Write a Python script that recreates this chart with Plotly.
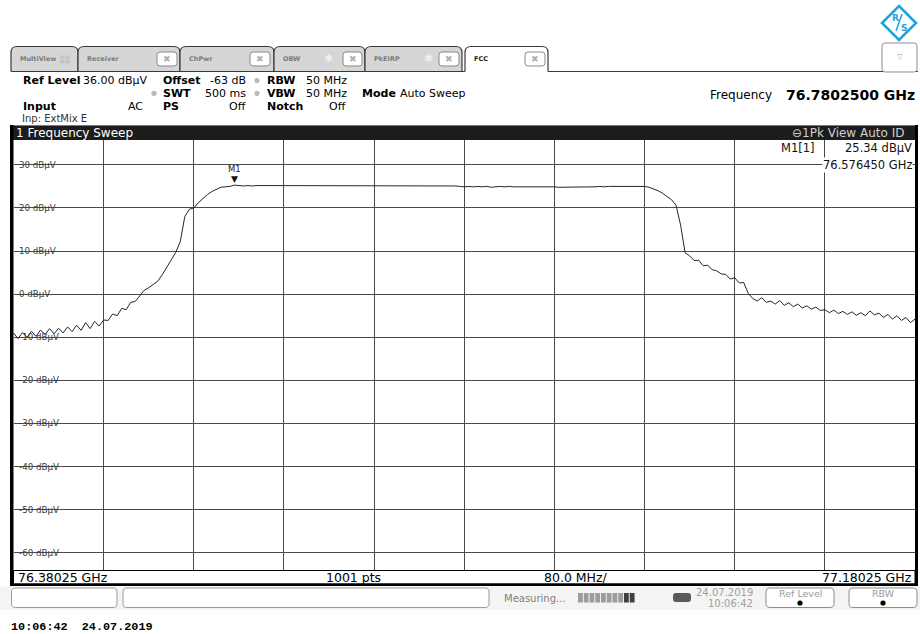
import numpy as np
import plotly.graph_objects as go

# ---------------- data ----------------
START_GHZ = 76.38025
STOP_GHZ = 77.18025
REF_LEVEL = 36.0
BOTTOM_LEVEL = -64.0
LEVEL_TICKS = [30, 20, 10, 0, -10, -20, -30, -40, -50, -60]
LEVEL_LABELS = [f"{v} dBµV" for v in LEVEL_TICKS]

levels_dbuv = [
    # rising noise floor / lower skirt
    -9.0, -10.3, -8.9, -10.0, -8.6, -9.8, -8.3, -9.4, -8.0, -9.2,
    -7.9, -9.0, -7.6, -8.7, -7.2, -8.4, -6.6, -8.0, -6.3, -7.4,
    -6.0, -6.1, -4.6, -5.0, -3.3, -3.6, -1.9, -1.7, -0.4, 0.9,
    1.5, 2.2, 3.0, 4.5, 6.2, 7.9, 9.7, 12.2, 18.0, 19.7,
    20.0, 21.2, 22.2, 23.1, 23.8, 24.4, 24.8, 24.9, 25.0, 25.3,
    # plateau
    25.2, 25.1, 25.2, 25.1, 25.2, 25.2, 25.1, 25.2, 25.1, 25.2,
    25.2, 25.1, 25.2, 25.2, 25.1, 25.2, 25.1, 25.2, 25.2, 25.1,
    25.2, 25.2, 25.1, 25.2, 25.1, 25.2, 25.2, 25.1, 25.2, 25.2,
    25.1, 25.2, 25.1, 25.2, 25.2, 25.1, 25.2, 25.1, 25.2, 25.2,
    25.1, 25.2, 25.1, 25.2, 25.1, 25.2, 25.1, 25.2, 25.1,
    25.0, 24.9, 25.0, 24.9, 25.0, 24.9, 25.0, 24.8, 24.9, 25.0,
    24.9, 25.0, 24.9, 24.9, 25.0, 24.9, 25.0, 24.9, 25.0, 24.9,
    24.9, 24.9,
    24.8, 24.8, 24.9, 24.8, 24.8, 24.9, 24.8, 24.9, 24.9, 25.0,
    24.9, 25.0, 25.0, 25.1, 25.0,
    25.1, 25.1, 25.1, 25.1, 25.0,
    # upper skirt
    24.8, 24.4, 24.0, 23.4, 22.7, 21.9, 20.6, 16.0, 9.6,
    8.9, 7.8, 7.9, 6.6, 6.7, 5.7, 5.4, 4.7, 4.6, 3.5,
    3.8, 2.6, 2.7, 0.2,
    -1.0, -1.6, -0.8, -1.9, -1.6, -2.3, -1.5, -2.6, -2.0, -2.9,
    -2.3, -3.2, -2.7, -3.5, -3.0, -3.8, -3.6, -4.3, -3.7, -4.5,
    -4.0, -4.7, -4.1, -4.9, -4.3, -5.0, -3.9, -4.8, -4.4, -5.4,
    -4.7, -5.8, -5.0, -6.1, -5.4, -6.6, -5.8,
]
M1_FREQ = 76.576450
M1_LEVEL = 25.34

freqs_ghz = np.linspace(START_GHZ, STOP_GHZ, len(levels_dbuv))

# ---------------- helpers ----------------
W, H = 920, 634
FONT = "DejaVu Sans"


def X(px):
    return px / W


def Y(py):
    return 1 - py / H


def P(x, y):
    return f"{x / W:.5f},{1 - y / H:.5f}"


fig = go.Figure()
shapes = []
annos = []


def rect(x0, y0, x1, y1, fill, line=None, lw=1, layer="above"):
    shapes.append(dict(type="rect", xref="paper", yref="paper",
                       x0=X(x0), x1=X(x1), y0=Y(y1), y1=Y(y0),
                       fillcolor=fill, layer=layer,
                       line=dict(color=line or fill, width=lw if line else 0)))


def rrect(x0, y0, x1, y1, r, fill, line, lw=1):
    path = (f"M {P(x0 + r, y0)} L {P(x1 - r, y0)} Q {P(x1, y0)} {P(x1, y0 + r)} "
            f"L {P(x1, y1 - r)} Q {P(x1, y1)} {P(x1 - r, y1)} L {P(x0 + r, y1)} "
            f"Q {P(x0, y1)} {P(x0, y1 - r)} L {P(x0, y0 + r)} Q {P(x0, y0)} {P(x0 + r, y0)} Z")
    shapes.append(dict(type="path", xref="paper", yref="paper", path=path,
                       fillcolor=fill, line=dict(color=line, width=lw)))


def tab(x0, y0, x1, y1, r, fill, line, lw=1.2):
    path = (f"M {P(x0, y1)} L {P(x0, y0 + r)} Q {P(x0, y0)} {P(x0 + r, y0)} "
            f"L {P(x1 - r, y0)} Q {P(x1, y0)} {P(x1, y0 + r)} L {P(x1, y1)}")
    shapes.append(dict(type="path", xref="paper", yref="paper", path=path,
                       fillcolor=fill, line=dict(color=line, width=lw)))


def hline(x0, x1, y, color, lw=1):
    shapes.append(dict(type="line", xref="paper", yref="paper",
                       x0=X(x0), x1=X(x1), y0=Y(y), y1=Y(y),
                       line=dict(color=color, width=lw)))


def dot(x, y, r, color):
    shapes.append(dict(type="circle", xref="paper", yref="paper",
                       x0=X(x - r), x1=X(x + r), y0=Y(y + r), y1=Y(y - r),
                       fillcolor=color, line=dict(width=0)))


def txt(x, y, s, size=11, color="#000", bold=False, anchor="left",
        family=FONT, bg=None):
    annos.append(dict(x=X(x), y=Y(y), xref="paper", yref="paper",
                      text=f"<b>{s}</b>" if bold else s, showarrow=False,
                      xanchor=anchor, yanchor="middle", borderpad=0,
                      bgcolor=bg if bg else "rgba(0,0,0,0)",
                      font=dict(family=family, size=size, color=color)))


# ---------------- plot area ----------------
PX0, PX1 = 13.5, 915.0
PY0, PY1 = 139.0, 570.0

# level labels: white patch above the grid but below the trace, text on top
char_w = {"-": 0.361, " ": 0.318, "d": 0.635, "B": 0.686, "µ": 0.636, "V": 0.684}
LABEL_SIZE = 8.7
for v, lab in zip(LEVEL_TICKS, LEVEL_LABELS):
    w = sum(char_w.get(c, 0.636) for c in lab) * LABEL_SIZE
    shapes.append(dict(type="rect", xref="paper", yref="y", layer="between",
                       x0=X(16.5), x1=X(19.5 + w), y0=v - 1.1, y1=v + 1.1,
                       fillcolor="white", line=dict(width=0)))
    annos.append(dict(x=X(17.5), y=v, xref="paper", yref="y", text=lab,
                      showarrow=False, xanchor="left", yanchor="middle",
                      borderpad=0,
                      font=dict(family=FONT, size=LABEL_SIZE, color="#3a3a3a")))

fig.add_trace(go.Scatter(
    x=freqs_ghz, y=levels_dbuv, mode="lines",
    line=dict(color="#262626", width=1), hoverinfo="skip"))

# marker M1
annos.append(dict(x=M1_FREQ, y=M1_LEVEL, xref="x", yref="y", text="▼",
                  showarrow=False, yanchor="bottom", yshift=-1,
                  font=dict(family=FONT, size=9, color="#111")))
annos.append(dict(x=M1_FREQ, y=M1_LEVEL, xref="x", yref="y", text="M1",
                  showarrow=False, yanchor="bottom", yshift=8.5,
                  font=dict(family=FONT, size=8.5, color="#222")))

# marker info
txt(780, 148, "M1[1]", size=11.5, color="#111")
txt(913, 148, f"{M1_LEVEL:.2f} dBµV", size=11.5, color="#111", anchor="right")
txt(913, 165, f"{M1_FREQ:.6f} GHz", size=11.5, color="#111", anchor="right", bg="white")

# ---------------- diagram frame ----------------
rect(11, 125, 918, 140, "#1c1c1c")
hline(11, 918, 125.5, "#7a7a7a", 1)
rect(10, 125, PX0, 586, "#000000")
rect(PX1, 125, 918, 586, "#000000")
rect(PX0, 570.5, PX1, 584, "white", line="#000000", lw=1)
rect(10, 583.5, 918, 586, "#000000")

txt(15, 133, "1 Frequency Sweep", size=12, color="white")
txt(905, 133, "⊖1Pk View Auto ID", size=12, color="#cfcfcf", anchor="right")

txt(17, 577.5, "76.38025 GHz", size=12.5, color="#000")
txt(325, 577.5, "1001 pts", size=12.5, color="#000")
txt(543, 577.5, "80.0 MHz/", size=12.5, color="#000")
txt(913, 577.5, "77.18025 GHz", size=12.5, color="#000", anchor="right")

# ---------------- tabs ----------------
TAB_Y0, TAB_Y1 = 46.5, 71.5
tabs = [
    ("MultiView", 11, 78, False, None, None),
    ("Receiver", 78, 180, False, None, (157, 177)),
    ("ChPwr", 180, 274, False, None, (250, 270)),
    ("OBW", 274, 365, False, 328, (343, 362)),
    ("PkEIRP", 365, 462, False, 428, (439, 459)),
    ("FCC", 465, 548, True, None, (525, 545)),
]
for name, x0, x1, active, star, xb in tabs:
    tab(x0, TAB_Y0, x1, TAB_Y1, 6, "white" if active else "#d6d6d6", "#3a3a3a")
    txt(x0 + 8, 59.5, name, size=6.5, bold=True,
        color="#222" if active else "#7a7a7a")
    if star is not None:
        txt(star, 58.5, "✱", size=11, color="#efefef", anchor="center")
    if xb is not None:
        rrect(xb[0], 52, xb[1], 66, 3, "white", "#8a8a8a", 1)
        txt((xb[0] + xb[1]) / 2, 59, "✖", size=9, color="#b0b0b0", anchor="center")
# MultiView icon
for dx in (0, 5.5):
    for dy in (0, 4.5):
        rect(60 + dx, 55.5 + dy, 64.5 + dx, 59 + dy, "#c4c4c4")
hline(11, 465, 71.5, "#3a3a3a", 1.2)
hline(548, 918, 71.5, "#3a3a3a", 1.2)

# dropdown box
rrect(882, 43, 917, 72, 3, "white", "#8c8c8c", 1)
txt(899.5, 57.5, "▽", size=7, color="#9a9a9a", anchor="center")

# R&S logo
shapes.append(dict(type="path", xref="paper", yref="paper",
                   path=f"M {P(899, 6)} L {P(916, 23)} L {P(899, 40)} L {P(882, 23)} Z",
                   fillcolor="white", line=dict(color="#1ea3dc", width=2.6)))
txt(895, 17.5, "R", size=9, bold=True, color="#1ea3dc", anchor="center")
txt(903.5, 28, "S", size=9, bold=True, color="#1ea3dc", anchor="center")
shapes.append(dict(type="line", xref="paper", yref="paper",
                   x0=X(896), y0=Y(31), x1=X(902), y1=Y(14),
                   line=dict(color="#1ea3dc", width=1.5)))

# ---------------- header info ----------------
R1, R2, R3, R4 = 80.5, 93.3, 106.7, 118.3
txt(22, R1, "Ref Level", size=11, bold=True)
txt(82, R1, "36.00 dBµV", size=11)
txt(162, R1, "Offset", size=11, bold=True)
txt(247, R1, "-63 dB", size=11, anchor="right")
dot(257, R1, 2.6, "#b9b9b9")
txt(266, R1, "RBW", size=11, bold=True)
txt(305, R1, "50 MHz", size=11)

dot(154, R2, 2.6, "#b9b9b9")
txt(162, R2, "SWT", size=11, bold=True)
txt(247, R2, "500 ms", size=11, anchor="right")
dot(257, R2, 2.6, "#b9b9b9")
txt(266, R2, "VBW", size=11, bold=True)
txt(305, R2, "50 MHz", size=11)
txt(361, R2, "Mode", size=11, bold=True)
txt(399, R2, "Auto Sweep", size=11)

txt(22, R3, "Input", size=11, bold=True)
txt(144, R3, "AC", size=11, anchor="right")
txt(162, R3, "PS", size=11, bold=True)
txt(247, R3, "Off", size=11, anchor="right")
txt(266, R3, "Notch", size=11, bold=True)
txt(347, R3, "Off", size=11, anchor="right")

txt(21, R4, "Inp: ExtMix E", size=10, color="#333")

txt(709, 95, "Frequency", size=12)
txt(916, 95, "76.7802500 GHz", size=14, bold=True, anchor="right")

# ---------------- status bar ----------------
rect(0, 586.5, 920, 610, "#f4f4f4")
rrect(11.5, 588, 117, 607.5, 4, "white", "#9a9a9a", 1)
rrect(123, 588, 489, 607.5, 4, "white", "#9a9a9a", 1)
txt(503, 598, "Measuring...", size=10, color="#808080")
for k in range(10):
    x0 = 578 + k * 5.75
    rect(x0, 593, x0 + 4.8, 602.5, "#404040" if k >= 8 else "#9c9c9c")
rrect(673.5, 593.5, 690.5, 601.5, 2, "#5a5a5a", "#5a5a5a", 1)
txt(754, 592.5, "24.07.2019", size=10, color="#a0a0a0", anchor="right")
txt(754, 603.5, "10:06:42", size=10, color="#a0a0a0", anchor="right")
rrect(766, 588, 834, 607.5, 4, "white", "#8c8c8c", 1)
txt(800, 593.5, "Ref Level", size=9.5, color="#9a9a9a", anchor="center")
dot(800, 603, 2.6, "#000000")
rrect(849, 588, 917, 607.5, 4, "white", "#8c8c8c", 1)
txt(883, 593.5, "RBW", size=9.5, color="#9a9a9a", anchor="center")
dot(883, 603, 2.6, "#000000")

txt(10, 627, "10:06:42\u00a0 24.07.2019", size=11.8, bold=True,
    family="Liberation Mono", color="#000")

# ---------------- layout ----------------
fig.update_layout(
    width=W, height=H, margin=dict(l=0, r=0, t=0, b=0),
    paper_bgcolor="white", plot_bgcolor="white", showlegend=False,
    xaxis=dict(domain=[X(PX0), X(PX1)], range=[START_GHZ, STOP_GHZ],
               tick0=START_GHZ, dtick=0.08, showgrid=True, gridcolor="#4a4a4a",
               gridwidth=1, showticklabels=False, ticks="", zeroline=False,
               showline=False, fixedrange=True),
    yaxis=dict(domain=[Y(PY1), Y(PY0)], range=[BOTTOM_LEVEL, REF_LEVEL],
               tick0=-60, dtick=10, showgrid=True, gridcolor="#4a4a4a",
               gridwidth=1, showticklabels=False, ticks="", zeroline=False,
               showline=False, fixedrange=True),
    shapes=shapes, annotations=annos,
)

fig.write_html(
    "out.html",
    config={"displayModeBar": False},
    post_script="document.body.style.margin='0';document.body.style.padding='0';"
                "document.body.style.overflow='hidden';",
)
